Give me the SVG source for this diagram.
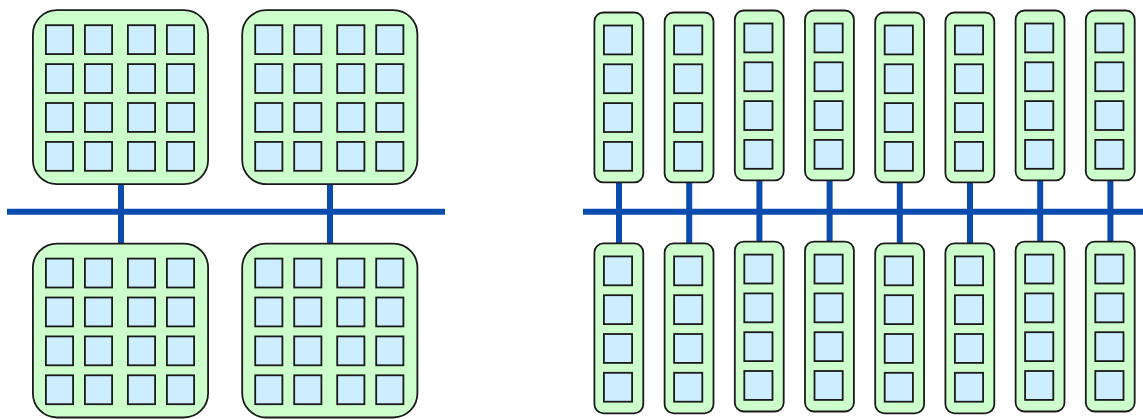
<svg xmlns="http://www.w3.org/2000/svg" xmlns:xlink="http://www.w3.org/1999/xlink" width="1143" height="419" viewBox="0 0 1143 419">
<style>
.big{fill:#ccffcc;stroke:#1a1a1a;stroke-width:1.8}
.col{fill:#ccffcc;stroke:#1a1a1a;stroke-width:1.8}
.cell{fill:#cceeff;stroke:#1a1a1a;stroke-width:1.8}
.bus{stroke:#0b4cae;stroke-width:6;fill:none}
</style>
<defs>
<g id="bigNode">
<rect class="big" x="0.9" y="0.9" width="175.2" height="173.9" rx="24"/>
<rect class="cell" x="13.9" y="15.9" width="27.2" height="28.9"/>
<rect class="cell" x="52.9" y="15.9" width="27.2" height="28.9"/>
<rect class="cell" x="95.9" y="15.9" width="27.2" height="28.9"/>
<rect class="cell" x="134.9" y="15.9" width="27.2" height="28.9"/>
<rect class="cell" x="13.9" y="54.8" width="27.2" height="28.9"/>
<rect class="cell" x="52.9" y="54.8" width="27.2" height="28.9"/>
<rect class="cell" x="95.9" y="54.8" width="27.2" height="28.9"/>
<rect class="cell" x="134.9" y="54.8" width="27.2" height="28.9"/>
<rect class="cell" x="13.9" y="93.7" width="27.2" height="28.9"/>
<rect class="cell" x="52.9" y="93.7" width="27.2" height="28.9"/>
<rect class="cell" x="95.9" y="93.7" width="27.2" height="28.9"/>
<rect class="cell" x="134.9" y="93.7" width="27.2" height="28.9"/>
<rect class="cell" x="13.9" y="132.6" width="27.2" height="28.9"/>
<rect class="cell" x="52.9" y="132.6" width="27.2" height="28.9"/>
<rect class="cell" x="95.9" y="132.6" width="27.2" height="28.9"/>
<rect class="cell" x="134.9" y="132.6" width="27.2" height="28.9"/>
</g>
<g id="colNode">
<rect class="col" x="0.9" y="0.9" width="48.9" height="169.9" rx="9"/>
<rect class="cell" x="10.4" y="13.9" width="28.2" height="28.9"/>
<rect class="cell" x="10.4" y="52.7" width="28.2" height="28.9"/>
<rect class="cell" x="10.4" y="91.5" width="28.2" height="28.9"/>
<rect class="cell" x="10.4" y="130.3" width="28.2" height="28.9"/>
</g>
</defs>
<g id="connectors">
<line class="bus" x1="7" y1="211.7" x2="445" y2="211.7"/>
<line class="bus" x1="121" y1="184" x2="121" y2="244"/>
<line class="bus" x1="330" y1="184" x2="330" y2="244"/>
<line class="bus" x1="583" y1="211.7" x2="1143" y2="211.7"/>
<line class="bus" x1="619" y1="182" x2="619" y2="244"/>
<line class="bus" x1="689.2" y1="182" x2="689.2" y2="244"/>
<line class="bus" x1="759.4" y1="180" x2="759.4" y2="242"/>
<line class="bus" x1="829.6" y1="180" x2="829.6" y2="242"/>
<line class="bus" x1="899.8" y1="182" x2="899.8" y2="244"/>
<line class="bus" x1="970" y1="182" x2="970" y2="244"/>
<line class="bus" x1="1040.2" y1="180" x2="1040.2" y2="242"/>
<line class="bus" x1="1110.4" y1="180" x2="1110.4" y2="242"/>
</g>
<g id="node-big-tl" transform="translate(32,9.3)"><use xlink:href="#bigNode" href="#bigNode"/></g>
<g id="node-big-tr" transform="translate(241.3,9.3)"><use xlink:href="#bigNode" href="#bigNode"/></g>
<g id="node-big-bl" transform="translate(32,242.7)"><use xlink:href="#bigNode" href="#bigNode"/></g>
<g id="node-big-br" transform="translate(241.3,242.7)"><use xlink:href="#bigNode" href="#bigNode"/></g>
<g id="node-col-t1" transform="translate(593.5,11.6)"><use href="#colNode"/></g>
<g id="node-col-t2" transform="translate(663.7,11.6)"><use href="#colNode"/></g>
<g id="node-col-t3" transform="translate(733.9,9.6)"><use href="#colNode"/></g>
<g id="node-col-t4" transform="translate(804.1,9.6)"><use href="#colNode"/></g>
<g id="node-col-t5" transform="translate(874.3,11.6)"><use href="#colNode"/></g>
<g id="node-col-t6" transform="translate(944.5,11.6)"><use href="#colNode"/></g>
<g id="node-col-t7" transform="translate(1014.7,9.6)"><use href="#colNode"/></g>
<g id="node-col-t8" transform="translate(1084.9,9.6)"><use href="#colNode"/></g>
<g id="node-col-b1" transform="translate(593.5,242.5)"><use href="#colNode"/></g>
<g id="node-col-b2" transform="translate(663.7,242.5)"><use href="#colNode"/></g>
<g id="node-col-b3" transform="translate(733.9,240.7)"><use href="#colNode"/></g>
<g id="node-col-b4" transform="translate(804.1,240.7)"><use href="#colNode"/></g>
<g id="node-col-b5" transform="translate(874.3,242.5)"><use href="#colNode"/></g>
<g id="node-col-b6" transform="translate(944.5,242.5)"><use href="#colNode"/></g>
<g id="node-col-b7" transform="translate(1014.7,240.7)"><use href="#colNode"/></g>
<g id="node-col-b8" transform="translate(1084.9,240.7)"><use href="#colNode"/></g>
</svg>
